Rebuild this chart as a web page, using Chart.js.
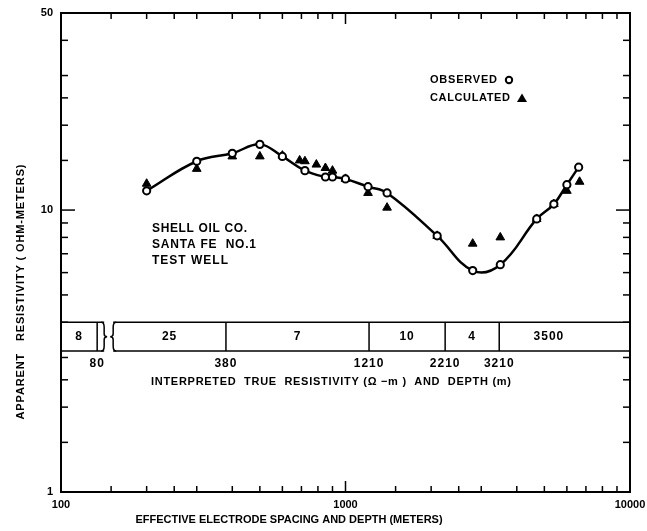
<!DOCTYPE html>
<html>
<head>
<meta charset="utf-8">
<script src="https://cdn.jsdelivr.net/npm/chart.js@4.4.1/dist/chart.umd.min.js"></script>
<style>
  html, body { margin: 0; padding: 0; background: #fff; }
  #wrap { width: 647px; height: 531px; }
</style>
</head>
<body>
<div id="wrap"><canvas id="chart1"></canvas></div>
<script>
// observed apparent resistivity (open circles) and the smooth curve through it
const obsSpacing = [200, 300, 400, 500, 600, 720, 850, 900, 1000, 1200, 1400, 2100, 2800, 3500, 4700, 5400, 6000, 6600];
const obsRho = [11.7, 14.9, 15.9, 17.1, 15.5, 13.8, 13.1, 13.1, 12.9, 12.1, 11.5, 8.1, 6.1, 6.4, 9.3, 10.5, 12.3, 14.2];

// calculated (filled triangles)
const calcSpacing = [200, 300, 400, 500, 600, 690, 720, 790, 850, 900, 1000, 1200, 1400, 2100, 2800, 3500, 4700, 5400, 6000, 6650];
const calcRho = [12.4, 14.0, 15.5, 15.5, 15.6, 15.0, 14.9, 14.5, 14.1, 13.8, 12.9, 11.5, 10.2, 8.1, 7.6, 8.0, 9.3, 10.5, 11.7, 12.6];

const xTickLabels = [100, 1000, 10000];
const yTickLabels = [1, 10, 50];
const xMinorTicks = [150, 200, 250, 300, 400, 500, 600, 700, 800, 900, 1500, 2000, 2500, 3000, 4000, 5000, 6000, 7000, 8000, 9000];
const yMinorTicks = [1.5, 2, 2.5, 3, 4, 5, 6, 7, 8, 9, 15, 20, 25, 30, 40];

// interpreted layering
const layerRho = ['8', '25', '7', '10', '4', '3500'];
const layerDepth = ['80', '380', '1210', '2210', '3210'];
const layerEdges = [134, 380, 1210, 2240, 3470];
const layerBand = [3.16, 4];

const FONT = '"Liberation Sans", Arial, sans-serif';

// draw text stretched to a given width with letter spacing
const spread = (ctx, text, x, y, width, align) => {
    ctx.letterSpacing = '0px';
    const w = ctx.measureText(text).width;
    const sp = Math.max(0, (width - w) / (text.length - 1));
    ctx.letterSpacing = sp + 'px';
    ctx.textAlign = 'left';
    const left = align === 'center' ? x - width / 2 : x;
    ctx.fillText(text, left, y);
    ctx.letterSpacing = '0px';
};

const overlay = {
    id: 'overlay',
    afterDraw(chart) {
        const ctx = chart.ctx;
        const a = chart.chartArea;
        const x = chart.scales.x;
        const y = chart.scales.y;
        const line = (x1, y1, x2, y2) => {
            ctx.beginPath();
            ctx.moveTo(x1, y1);
            ctx.lineTo(x2, y2);
            ctx.stroke();
        };
        ctx.save();
        ctx.strokeStyle = '#000';
        ctx.fillStyle = '#000';

        // frame
        ctx.lineWidth = 2;
        ctx.strokeRect(a.left, a.top, a.right - a.left, a.bottom - a.top);

        // inward ticks on all four sides
        ctx.lineWidth = 1.5;
        xMinorTicks.forEach(v => {
            const p = x.getPixelForValue(v);
            line(p, a.bottom, p, a.bottom - 6);
            line(p, a.top, p, a.top + 6);
        });
        xTickLabels.forEach(v => {
            const p = x.getPixelForValue(v);
            line(p, a.bottom, p, a.bottom - 11);
            line(p, a.top, p, a.top + 11);
        });
        yMinorTicks.forEach(v => {
            const p = y.getPixelForValue(v);
            line(a.left, p, a.left + 7, p);
            line(a.right, p, a.right - 7, p);
        });
        yTickLabels.forEach(v => {
            const p = y.getPixelForValue(v);
            line(a.left, p, a.left + 14, p);
            line(a.right, p, a.right - 14, p);
        });

        // layer box
        const yT = y.getPixelForValue(layerBand[1]);
        const yB = y.getPixelForValue(layerBand[0]);
        const edges = layerEdges.map(v => x.getPixelForValue(v));
        const b1 = edges[0] + 7, b2 = edges[0] + 16;
        ctx.lineWidth = 1.5;
        line(a.left, yT, b1, yT);
        line(a.left, yB, b1, yB);
        line(b2, yT, a.right, yT);
        line(b2, yB, a.right, yB);
        edges.forEach(p => line(p, yT, p, yB));
        const brace = (bx, dir) => {
            const mid = (yT + yB) / 2;
            ctx.beginPath();
            ctx.moveTo(bx - 3 * dir, yT);
            ctx.quadraticCurveTo(bx, yT, bx, yT + 5);
            ctx.lineTo(bx, mid - 3);
            ctx.quadraticCurveTo(bx, mid, bx + 3 * dir, mid);
            ctx.quadraticCurveTo(bx, mid, bx, mid + 3);
            ctx.lineTo(bx, yB - 5);
            ctx.quadraticCurveTo(bx, yB, bx - 3 * dir, yB);
            ctx.stroke();
        };
        brace(b1, 1);
        brace(b2, -1);

        ctx.font = 'bold 12px ' + FONT;
        ctx.textAlign = 'center';
        ctx.textBaseline = 'middle';
        ctx.letterSpacing = '1px';
        const lefts = [a.left, b2].concat(edges.slice(1));
        const rights = edges.concat([a.right]);
        layerRho.forEach((t, i) => {
            const last = i === layerRho.length - 1;
            const cx = last ? lefts[i] + (rights[i] - lefts[i]) * 0.38 : (lefts[i] + rights[i]) / 2;
            ctx.fillText(t, cx, (yT + yB) / 2);
        });
        layerDepth.forEach((t, i) => {
            ctx.fillText(t, edges[i], yB + 13);
        });
        ctx.letterSpacing = '0px';
        ctx.font = 'bold 11px ' + FONT;
        spread(ctx, 'INTERPRETED  TRUE  RESISTIVITY (\u03A9 \u2212m )  AND  DEPTH (m)', 331, 382, 360, 'center');

        // well name
        ctx.font = 'bold 12px ' + FONT;
        spread(ctx, 'SHELL OIL CO.', 152, 229, 95);
        spread(ctx, 'SANTA FE  NO.1', 152, 245, 104);
        spread(ctx, 'TEST WELL', 152, 261, 76);

        // legend
        ctx.font = 'bold 11px ' + FONT;
        spread(ctx, 'OBSERVED', 430, 80, 67);
        spread(ctx, 'CALCULATED', 430, 98, 80);
        ctx.lineWidth = 2;
        ctx.beginPath();
        ctx.arc(509, 80, 3.2, 0, Math.PI * 2);
        ctx.stroke();
        ctx.beginPath();
        ctx.moveTo(522, 93.5);
        ctx.lineTo(527, 102);
        ctx.lineTo(517, 102);
        ctx.closePath();
        ctx.fill();

        // axis titles
        ctx.font = 'bold 11px ' + FONT;
        ctx.textAlign = 'center';
        ctx.fillText('EFFECTIVE ELECTRODE SPACING AND DEPTH (METERS)', 289, 520);
        ctx.translate(21, 292);
        ctx.rotate(-Math.PI / 2);
        spread(ctx, 'APPARENT   RESISTIVITY ( OHM-METERS)', 0, 0, 255, 'center');
        ctx.restore();
    }
};

const data = {
    datasets: [
        {
            label: 'Curve',
            data: obsSpacing.map((v, i) => ({ x: v, y: obsRho[i] })),
            showLine: true,
            tension: 0.4,
            borderColor: '#000',
            borderWidth: 2.5,
            pointRadius: 0,
            order: 3
        },
        {
            label: 'Calculated',
            data: calcSpacing.map((v, i) => ({ x: v, y: calcRho[i] })),
            pointStyle: 'triangle',
            pointRadius: 5,
            backgroundColor: '#000',
            borderColor: '#000',
            borderWidth: 1,
            order: 2
        },
        {
            label: 'Observed',
            data: obsSpacing.map((v, i) => ({ x: v, y: obsRho[i] })),
            pointStyle: 'circle',
            pointRadius: 3.6,
            backgroundColor: '#fff',
            borderColor: '#000',
            borderWidth: 2,
            order: 1
        }
    ]
};

const config = {
    type: 'scatter',
    data: data,
    options: {
        responsive: true,
        maintainAspectRatio: false,
        animation: false,
        layout: { padding: { top: 13, right: 17, left: 0, bottom: 0 } },
        plugins: { legend: { display: false }, tooltip: { enabled: false } },
        scales: {
            x: {
                type: 'logarithmic',
                min: 100,
                max: 10000,
                afterBuildTicks: s => { s.ticks = xTickLabels.map(v => ({ value: v })); },
                afterFit: s => { s.height = 39; s.paddingLeft = 0; s.paddingRight = 0; },
                grid: { display: false, drawTicks: false },
                border: { display: false },
                ticks: {
                    autoSkip: false,
                    maxRotation: 0,
                    padding: 6,
                    color: '#000',
                    font: { family: FONT, size: 11, weight: 'bold' },
                    callback: v => String(v)
                }
            },
            y: {
                type: 'logarithmic',
                min: 1,
                max: 50,
                afterBuildTicks: s => { s.ticks = yTickLabels.map(v => ({ value: v })); },
                afterFit: s => { s.width = 61; s.paddingTop = 0; s.paddingBottom = 0; },
                grid: { display: false, drawTicks: false },
                border: { display: false },
                ticks: {
                    padding: 8,
                    color: '#000',
                    font: { family: FONT, size: 11, weight: 'bold' },
                    callback: v => String(v)
                }
            }
        }
    },
    plugins: [overlay]
};

new Chart(document.getElementById('chart1'), config);
</script>
</body>
</html>
